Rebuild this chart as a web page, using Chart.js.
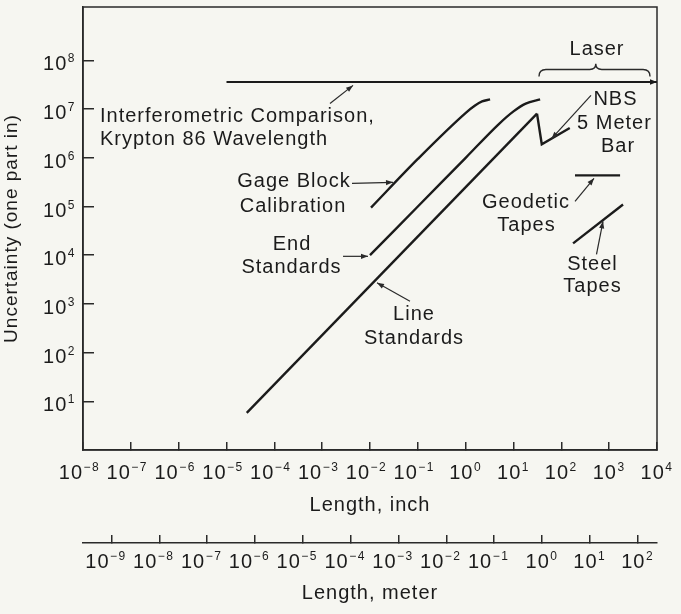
<!DOCTYPE html>
<html>
<head>
<meta charset="utf-8">
<script src="https://cdn.jsdelivr.net/npm/chart.js@4/dist/chart.umd.min.js"></script>
<style>
  html, body { margin: 0; padding: 0; background: #f6f6f1; }
  canvas { display: block; }
</style>
</head>
<body>
<canvas id="chart" width="681" height="614"></canvas>
<script>
// Uncertainty (one part in) attainable by length-measurement methods, log-log

// Interferometric comparison with the Krypton 86 wavelength (carried on by laser)
const kryptonLength = [1e-5, 1e4];
const kryptonUncertainty = [3.6e7, 3.6e7];

// Gage block calibration
const gageBlockLength = [0.0105, 0.1, 1.02, 1.57, 2.2, 3.24];
const gageBlockUncertainty = [9.5e4, 9.5e5, 8.5e6, 1.19e7, 1.44e7, 1.58e7];

// End standards
const endStandardLength = [0.01, 0.1, 1, 5, 10, 18, 36];
const endStandardUncertainty = [1e4, 1e5, 1e6, 5e6, 9e6, 1.3e7, 1.58e7];

// Line standards
const lineStandardLength = [2.65e-5, 31];
const lineStandardUncertainty = [5.8, 8.1e6];

// NBS 5 meter bar
const nbsBarLength = [31, 39, 150];
const nbsBarUncertainty = [8.1e6, 1.9e6, 4.1e6];

// Geodetic tapes
const geodeticTapeLength = [193, 1690];
const geodeticTapeUncertainty = [4.35e5, 4.35e5];

// Steel tapes
const steelTapeLength = [176, 1950];
const steelTapeUncertainty = [1.75e4, 1.1e5];

// Tick exponents (powers of ten) on each axis
const inchExponents = [-8, -7, -6, -5, -4, -3, -2, -1, 0, 1, 2, 3, 4];
const meterExponents = [-9, -8, -7, -6, -5, -4, -3, -2, -1, 0, 1, 2];
const uncertaintyExponents = [1, 2, 3, 4, 5, 6, 7, 8];

const METERS_PER_INCH = 0.0254;
const FONT = '"Liberation Sans", Arial, Helvetica, sans-serif';
const INK = '#1b1b1b';

// Callout texts: text, log10(length, inch), log10(uncertainty) of the baseline, alignment
const calloutTexts = [
  ['Interferometric Comparison,', -7.645, 6.727, 'left'],
  ['Krypton 86 Wavelength', -7.645, 6.255, 'left'],
  ['Gage Block', -3.589, 5.407, 'center'],
  ['Calibration', -3.610, 4.886, 'center'],
  ['End', -3.631, 4.106, 'center'],
  ['Standards', -3.641, 3.642, 'center'],
  ['Line', -1.080, 2.669, 'center'],
  ['Standards', -1.080, 2.184, 'center'],
  ['NBS', 3.132, 7.076, 'center'],
  ['5 Meter', 3.111, 6.584, 'center'],
  ['Bar', 3.185, 6.111, 'center'],
  ['Laser', 2.746, 8.113, 'center'],
  ['Geodetic', 1.261, 4.972, 'center'],
  ['Tapes', 1.272, 4.490, 'center'],
  ['Steel', 2.652, 3.695, 'center'],
  ['Tapes', 2.652, 3.237, 'center']
];

// Leader arrows: from (log x, log y) to arrow tip (log x, log y)
const calloutArrows = [
  [-2.836, 7.117, -2.355, 7.487],
  [-2.376, 5.475, -1.519, 5.496],
  [-2.564, 3.977, -2.042, 3.977],
  [-1.164, 3.053, -1.854, 3.433],
  [2.620, 7.282, 1.795, 6.393],
  [2.286, 5.106, 2.683, 5.578],
  [2.735, 4.018, 2.871, 4.695]
];

// Brace spanning the laser range (log units)
const laserBrace = { from: 1.533, to: 3.854, tip: 2.72, bar: 7.815, ends: 7.672, peak: 7.93 };

const toPoints = (xs, ys) => xs.map((x, i) => ({ x: x, y: ys[i] }));

function series(label, xs, ys, extra) {
  return Object.assign({
    label: label,
    data: toPoints(xs, ys),
    showLine: true,
    borderColor: INK,
    backgroundColor: INK,
    borderWidth: 2.4,
    borderJoinStyle: 'miter',
    pointRadius: 0,
    pointHoverRadius: 0,
    tension: 0
  }, extra || {});
}

function arrowHead(ctx, x1, y1, x2, y2, len, half) {
  const a = Math.atan2(y2 - y1, x2 - x1);
  ctx.beginPath();
  ctx.moveTo(x2, y2);
  ctx.lineTo(x2 - len * Math.cos(a) + half * Math.sin(a), y2 - len * Math.sin(a) - half * Math.cos(a));
  ctx.lineTo(x2 - len * Math.cos(a) - half * Math.sin(a), y2 - len * Math.sin(a) + half * Math.cos(a));
  ctx.closePath();
  ctx.fill();
}

// "10" with a raised exponent; shift moves labels with negative exponents
function drawPower(ctx, exp, x, baseline, align, shift) {
  const baseFont = '20px ' + FONT;
  const supFont = '12px ' + FONT;
  const sup = exp < 0 ? '\u2212' + Math.abs(exp) : String(exp);
  ctx.font = baseFont; ctx.letterSpacing = '1px';
  const wb = ctx.measureText('10').width;
  ctx.font = supFont; ctx.letterSpacing = '1.5px';
  const ws = ctx.measureText(sup).width;
  const total = wb + 0.5 + ws;
  let left = align === 'right' ? x - total : x - total / 2;
  if (exp < 0) left += shift;
  ctx.textAlign = 'left';
  ctx.textBaseline = 'alphabetic';
  ctx.font = baseFont; ctx.letterSpacing = '1px';
  ctx.fillText('10', left, baseline);
  ctx.font = supFont; ctx.letterSpacing = '1.5px';
  ctx.fillText(sup, left + wb + 0.5, baseline - 8);
}

const frameAndLabels = {
  id: 'frameAndLabels',
  beforeDraw(chart) {
    chart.ctx.letterSpacing = '1px';
  },
  afterDraw(chart) {
    const ctx = chart.ctx;
    const area = chart.chartArea;
    const sx = chart.scales.x, sy = chart.scales.y, sm = chart.scales.meter;
    ctx.save();
    // plot frame
    ctx.strokeStyle = '#2a2a2a';
    ctx.lineWidth = 1.5;
    ctx.strokeRect(area.left, area.top, area.right - area.left, area.bottom - area.top);

    // tick labels
    ctx.fillStyle = INK;
    sx.ticks.forEach(t => drawPower(ctx, Math.round(Math.log10(t.value)), sx.getPixelForValue(t.value), sx.top + 28.5, 'center', -3.5));
    sm.ticks.forEach(t => drawPower(ctx, Math.round(Math.log10(t.value)), sm.getPixelForValue(t.value), sm.top + 25, 'center', -5.5));
    sy.ticks.forEach(t => drawPower(ctx, Math.round(Math.log10(t.value)), sy.right - 7, sy.getPixelForValue(t.value) + 10, 'right', 0));

    const P = (lx, ly) => [sx.getPixelForValue(Math.pow(10, lx)), sy.getPixelForValue(Math.pow(10, ly))];

    // arrow at the end of the interferometric comparison line
    const kMeta = chart.getDatasetMeta(0).data;
    const kA = kMeta[kMeta.length - 2], kB = kMeta[kMeta.length - 1];
    arrowHead(ctx, kA.x, kA.y, kB.x, kB.y, 7, 2.8);

    // callout texts
    ctx.font = '20px ' + FONT;
    ctx.letterSpacing = '1px';
    ctx.textBaseline = 'alphabetic';
    calloutTexts.forEach(([text, lx, ly, align]) => {
      const [px, py] = P(lx, ly);
      ctx.textAlign = align;
      ctx.fillText(text, px, py);
    });

    // leader arrows
    ctx.strokeStyle = '#2a2a2a';
    ctx.fillStyle = '#2a2a2a';
    ctx.lineWidth = 1.2;
    calloutArrows.forEach(([ax, ay, bx, by]) => {
      const [x1, y1] = P(ax, ay);
      const [x2, y2] = P(bx, by);
      ctx.beginPath();
      ctx.moveTo(x1, y1);
      ctx.lineTo(x2, y2);
      ctx.stroke();
      arrowHead(ctx, x1, y1, x2, y2, 7, 2.6);
    });

    // laser brace
    const [xl, yb] = P(laserBrace.from, laserBrace.bar);
    const [xr] = P(laserBrace.to, laserBrace.bar);
    const [xm, yt] = P(laserBrace.tip, laserBrace.peak);
    const [, ye] = P(laserBrace.from, laserBrace.ends);
    ctx.lineWidth = 1.4;
    ctx.beginPath();
    ctx.moveTo(xl, ye);
    ctx.quadraticCurveTo(xl, yb, xl + 7, yb);
    ctx.lineTo(xm - 6, yb);
    ctx.quadraticCurveTo(xm, yb, xm, yt);
    ctx.quadraticCurveTo(xm, yb, xm + 6, yb);
    ctx.lineTo(xr - 7, yb);
    ctx.quadraticCurveTo(xr, yb, xr, ye);
    ctx.stroke();
    ctx.restore();
  }
};

const axisLine = { display: true, color: '#2a2a2a', width: 1.5 };
const titleFont = { family: FONT, size: 20, lineHeight: 1.2 };

new Chart(document.getElementById('chart'), {
  type: 'scatter',
  data: {
    datasets: [
      series('Interferometric Comparison, Krypton 86 Wavelength', kryptonLength, kryptonUncertainty, { borderWidth: 2.2 }),
      series('Gage Block Calibration', gageBlockLength, gageBlockUncertainty, { cubicInterpolationMode: 'monotone' }),
      series('End Standards', endStandardLength, endStandardUncertainty, { cubicInterpolationMode: 'monotone' }),
      series('Line Standards', lineStandardLength, lineStandardUncertainty),
      series('NBS 5 Meter Bar', nbsBarLength, nbsBarUncertainty),
      series('Geodetic Tapes', geodeticTapeLength, geodeticTapeUncertainty),
      series('Steel Tapes', steelTapeLength, steelTapeUncertainty)
    ]
  },
  options: {
    responsive: false,
    animation: false,
    events: [],
    layout: { padding: { top: 7, right: 24, left: 0, bottom: 0 } },
    plugins: { legend: { display: false }, tooltip: { enabled: false } },
    scales: {
      x: {
        type: 'logarithmic',
        position: 'bottom',
        weight: 0,
        min: 1e-8,
        max: 1e4,
        afterBuildTicks: s => { s.ticks = inchExponents.map(e => ({ value: Math.pow(10, e) })); },
        afterFit: s => { s.height = 93; },
        ticks: { display: false },
        grid: { drawOnChartArea: false, drawTicks: true, tickLength: -8, color: '#2a2a2a', lineWidth: 1.5 },
        border: axisLine,
        title: { display: true, text: 'Length, inch', color: INK, font: titleFont, padding: { top: 0, bottom: 26 } }
      },
      meter: {
        type: 'logarithmic',
        position: 'bottom',
        weight: 1,
        min: 1e-8 * METERS_PER_INCH,
        max: 1e4 * METERS_PER_INCH,
        afterBuildTicks: s => { s.ticks = meterExponents.map(e => ({ value: Math.pow(10, e) })); },
        afterFit: s => { s.height = 71; },
        ticks: { display: false },
        grid: { drawOnChartArea: false, drawTicks: true, tickLength: -8, color: '#2a2a2a', lineWidth: 1.5 },
        border: axisLine,
        title: { display: true, text: 'Length, meter', color: INK, font: titleFont, padding: { top: 0, bottom: 9 } }
      },
      y: {
        type: 'logarithmic',
        position: 'left',
        min: 1,
        max: 1.25e9,
        afterBuildTicks: s => { s.ticks = uncertaintyExponents.map(e => ({ value: Math.pow(10, e) })); },
        afterFit: s => { s.width = 83; },
        ticks: { display: false },
        grid: { drawOnChartArea: false, drawTicks: true, tickLength: -11, color: '#2a2a2a', lineWidth: 1.5 },
        border: axisLine,
        title: { display: true, text: 'Uncertainty (one part in)', color: INK, font: { family: FONT, size: 19, lineHeight: 1.2 }, padding: { top: 0, bottom: 0 } }
      }
    }
  },
  plugins: [frameAndLabels]
});
</script>
</body>
</html>
